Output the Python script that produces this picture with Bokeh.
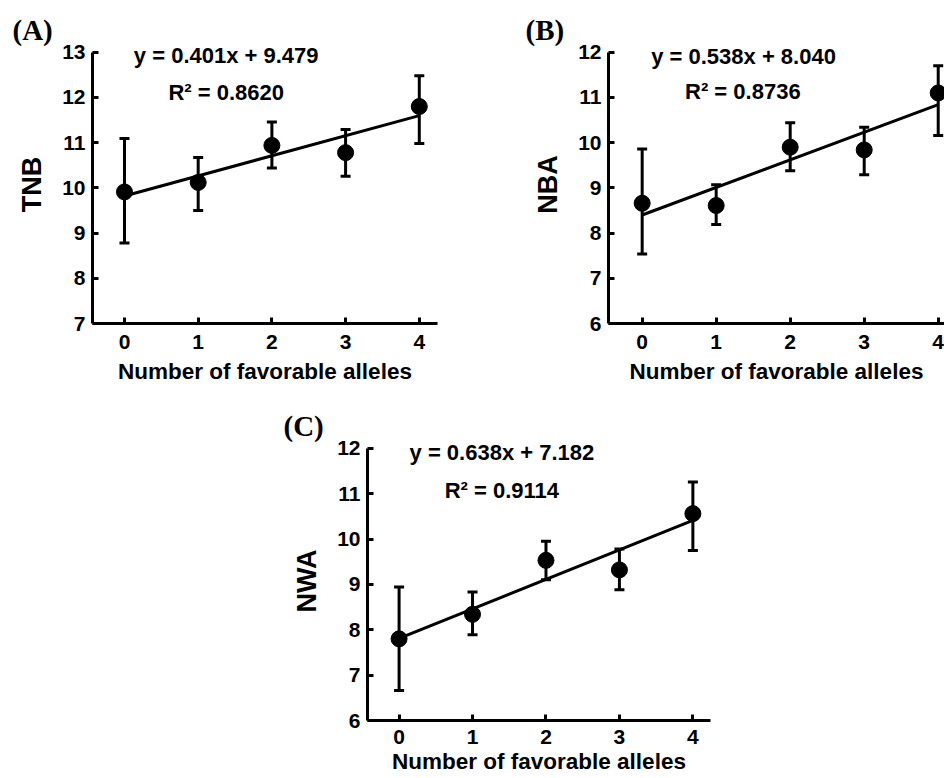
from bokeh.plotting import figure
from bokeh.models import Whisker, TeeHead, ColumnDataSource, Label, Range1d, Spacer, FixedTicker
from bokeh.layouts import column, row
from bokeh.embed import file_html
from bokeh.resources import INLINE
import numpy as np

# ---- data ----
alleles = [0, 1, 2, 3, 4]
x_ticks = [0, 1, 2, 3, 4]
x_title = "Number of favorable alleles"

tnb_mean = [9.91, 10.12, 10.94, 10.78, 11.80]
tnb_upper = [11.09, 10.67, 11.46, 11.29, 12.48]
tnb_lower = [8.78, 9.50, 10.44, 10.26, 10.98]
tnb_ticks = [7, 8, 9, 10, 11, 12, 13]

nba_mean = [8.66, 8.61, 9.90, 9.84, 11.10]
nba_upper = [9.86, 9.07, 10.44, 10.34, 11.70]
nba_lower = [7.54, 8.19, 9.38, 9.29, 10.16]
nba_ticks = [6, 7, 8, 9, 10, 11, 12]

nwa_mean = [7.80, 8.34, 9.53, 9.32, 10.56]
nwa_upper = [8.94, 8.83, 9.95, 9.78, 11.26]
nwa_lower = [6.66, 7.89, 9.10, 8.88, 9.75]
nwa_ticks = [6, 7, 8, 9, 10, 11, 12]

panel_letters = ["(A)", "(B)", "(C)"]
y_titles = ["TNB", "NBA", "NWA"]
equations = ["y = 0.401x + 9.479", "y = 0.538x + 8.040", "y = 0.638x + 7.182"]
r_squared = ["R\u00b2 = 0.8620", "R\u00b2 = 0.8736", "R\u00b2 = 0.9114"]

SANS = "Liberation Sans"
SERIF = "Liberation Serif"


def panel(width, height, xr, yr, borders, yticks, mean, upper, lower,
          letter, letter_offset, ytitle, eq, eq_xy, r2, r2_xy, x_standoffs):
    bl, bt, br, bb = borders
    p = figure(width=width, height=height, x_range=Range1d(*xr), y_range=Range1d(*yr),
               output_backend="svg", toolbar_location=None,
               min_border_left=bl, min_border_top=bt, min_border_right=br, min_border_bottom=bb)
    p.outline_line_color = None
    p.xgrid.grid_line_color = None
    p.ygrid.grid_line_color = None
    p.background_fill_color = None
    p.border_fill_color = None

    p.title.text = letter
    p.title.text_font = SERIF
    p.title.text_font_style = "bold"
    p.title.text_font_size = "29px"
    p.title.text_color = "black"
    p.title.align = "left"
    p.title.offset = letter_offset
    p.title.standoff = 0

    p.xaxis.ticker = FixedTicker(ticks=x_ticks)
    p.yaxis.ticker = FixedTicker(ticks=yticks)
    p.yaxis.bounds = (yticks[0], yticks[-1])
    p.xaxis.axis_label = x_title
    p.yaxis.axis_label = ytitle
    for ax in (p.xaxis[0], p.yaxis[0]):
        ax.axis_line_width = 3
        ax.axis_line_color = "black"
        ax.major_tick_line_width = 3
        ax.major_tick_line_color = "black"
        ax.major_tick_in = 6
        ax.major_tick_out = 0
        ax.minor_tick_line_color = None
        ax.major_label_text_font = SANS
        ax.major_label_text_font_style = "bold"
        ax.major_label_text_font_size = "21px"
        ax.major_label_text_color = "black"
        ax.axis_label_text_font = SANS
        ax.axis_label_text_font_style = "bold"
        ax.axis_label_text_color = "black"
    p.xaxis.major_label_standoff = x_standoffs[0]
    p.yaxis.major_label_standoff = 7
    p.xaxis.axis_label_text_font_size = "22.5px"
    p.yaxis.axis_label_text_font_size = "27px"
    p.xaxis.axis_label_standoff = x_standoffs[1]
    p.yaxis.axis_label_standoff = 12

    src = ColumnDataSource(dict(x=alleles, mean=mean, upper=upper, lower=lower))
    w = Whisker(base="x", upper="upper", lower="lower", source=src,
                line_width=3, line_color="black",
                upper_head=TeeHead(size=10, line_width=3, line_color="black"),
                lower_head=TeeHead(size=10, line_width=3, line_color="black"))
    p.add_layout(w)

    slope, icpt = np.polyfit(alleles, mean, 1)
    xs = [alleles[0], alleles[-1]]
    p.line(xs, [icpt + slope * v for v in xs], line_width=3, line_color="black")
    p.scatter("x", "mean", source=src, size=16, fill_color="black", line_color="black")

    p.add_layout(Label(x=eq_xy[0], y=eq_xy[1], text=eq, text_font=SANS,
                       text_font_style="bold", text_font_size="22px", text_align="center",
                       text_baseline="middle", text_color="black"))
    p.add_layout(Label(x=r2_xy[0], y=r2_xy[1], text=r2, text_font=SANS,
                       text_font_style="bold", text_font_size="22px", text_align="center",
                       text_baseline="middle", text_color="black"))
    return p


pA = panel(470, 386, (-0.434, 4.247), (7, 13.15), (92, 45, 33, 63), tnb_ticks,
           tnb_mean, tnb_upper, tnb_lower,
           panel_letters[0], -80, y_titles[0],
           equations[0], (1.38, 12.93), r_squared[0], (1.38, 12.12), (11, 7))

pB = panel(474, 386, (-0.455, 4.085), (6, 12.15), (138, 43, 0, 63), nba_ticks,
           nba_mean, nba_upper, nba_lower,
           panel_letters[1], -83, y_titles[1],
           equations[1], (1.37, 11.91), r_squared[1], (1.36, 11.13), (11, 7))

pC = panel(480, 392, (-0.43, 4.24), (6, 12.15), (107, 55, 30, 58), nwa_ticks,
           nwa_mean, nwa_upper, nwa_lower,
           panel_letters[2], -84, y_titles[2],
           equations[2], (1.40, 11.91), r_squared[2], (1.40, 11.08), (9, 2))

layout = column(row(pA, pB), row(Spacer(width=260, height=392), pC))
open("out.html", "w").write(file_html(layout, INLINE))
